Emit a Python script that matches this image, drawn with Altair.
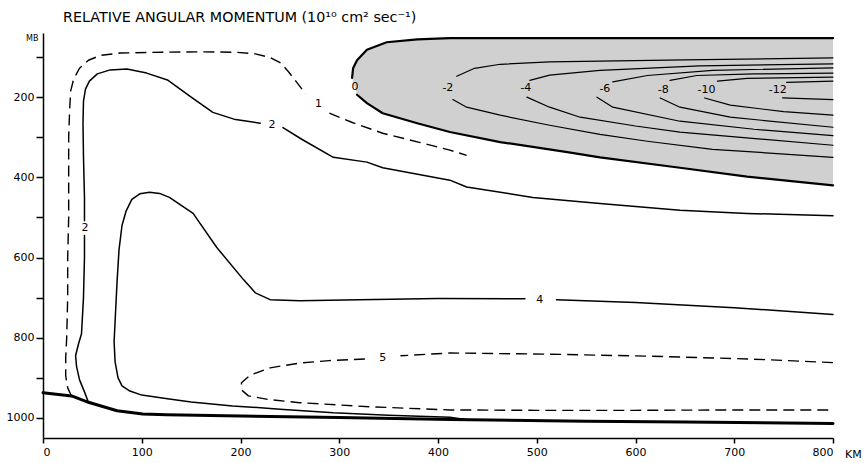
import altair as alt
import pandas as pd

FONT = "DejaVu Sans"

# ---------------- data: contour traces as (km, mb) ----------------
GROUND = [(0, 937), (29, 945), (46, 961), (75, 982), (101, 990), (125, 992), (200, 995),
          (300, 999), (413, 1004), (550, 1008), (650, 1010), (800, 1014)]

C1_A = [(29, 946), (25, 925), (23, 895), (23, 850), (24, 800), (25, 700), (25, 600), (26, 500),
        (26, 400), (26, 300), (27, 230), (28, 185), (31, 155), (37, 128), (46, 108), (58, 96),
        (78, 90), (120, 88), (160, 87), (195, 88), (215, 92), (230, 101), (241, 115),
        (249, 138), (257, 163), (266, 192)]
C1_B = [(290, 240), (312, 262), (344, 290), (380, 312), (412, 332), (429, 345)]

C2_A = [(46, 961), (42, 935), (37, 905), (34, 872), (33, 845), (36, 815), (39, 790),
        (41, 700), (42, 600), (42, 545)]
C2_B = [(42, 508), (42, 450), (41, 350), (40.5, 265), (41, 210), (43, 180), (47, 160),
        (55, 142), (68, 132), (85, 130), (105, 140), (126, 157), (149, 198), (172, 238),
        (195, 256), (220, 265)]
C2_C = [(243, 276), (262, 305), (294, 350), (328, 362), (344, 376), (412, 407), (429, 424),
        (496, 450), (564, 465), (645, 482), (713, 490), (800, 496)]

C4_A = [(428, 1004), (412, 998), (350, 993), (294, 987), (240, 978), (192, 970), (150, 960),
        (126, 952), (100, 943), (88, 933), (80, 920), (76, 900), (73, 860), (72, 810),
        (73, 760), (75, 660), (77, 580), (80, 520), (84, 485), (90, 455), (98, 441),
        (108, 437), (118, 440), (128, 450), (152, 490), (176, 575), (203, 655), (215, 688),
        (230, 705), (260, 708), (320, 705), (400, 702), (488, 703)]
C4_B = [(520, 705), (600, 712), (700, 725), (800, 742)]

C5_A = [(800, 862), (716, 853), (615, 846), (513, 841), (412, 838), (362, 845)]
C5_B = [(326, 853), (290, 857), (260, 863), (230, 875), (210, 893), (201, 912), (201, 930),
        (208, 945), (228, 954), (260, 962), (330, 972), (412, 980), (500, 981), (600, 981),
        (700, 980), (800, 980)]

C0_TOP = [(800, 53), (600, 53), (450, 53), (412, 53), (379, 56), (348, 63), (328, 82),
          (318, 108), (314, 128), (313, 152)]
C0_BOT = [(318, 194), (328, 215), (344, 240), (379, 265), (412, 287), (463, 312), (531, 337),
          (564, 350), (645, 376), (713, 398), (800, 420)]

N2_UP = [(419, 148), (437, 128), (463, 118), (513, 112), (564, 110), (650, 107), (800, 102)]
N2_LO = [(415, 206), (429, 225), (463, 245), (513, 270), (564, 293), (612, 310), (678, 330), (800, 350)]
N4_UP = [(493, 158), (513, 145), (564, 133), (665, 122), (800, 117)]
N4_LO = [(490, 200), (513, 225), (544, 250), (600, 272), (645, 287), (800, 320)]
N6_UP = [(577, 162), (612, 146), (678, 133), (800, 127)]
N6_LO = [(561, 200), (577, 225), (645, 260), (720, 280), (800, 296)]
N8_UP = [(635, 158), (662, 146), (720, 142), (800, 140)]
N8_LO = [(625, 202), (645, 225), (696, 250), (800, 275)]
N10_UP = [(683, 160), (713, 153), (800, 150)]
N10_LO = [(670, 202), (696, 220), (750, 236), (800, 245)]
N12_UP = [(753, 163), (800, 160)]
N12_LO = [(749, 202), (800, 206)]

LABEL_TEXT = ["0", "-2", "-4", "-6", "-8", "-10", "-12", "1", "2", "2", "4", "5"]
LABEL_KM = [316, 410, 489, 569, 628, 672, 744, 279, 232, 42.5, 503, 344]
LABEL_MB = [175, 178, 177, 180, 182, 182, 182, 217, 270, 527, 705, 850]

X_TICKS = [0, 100, 200, 300, 400, 500, 600, 700, 800]
Y_TICKS = [100, 200, 300, 400, 500, 600, 700, 800, 900, 1000]
TITLE = "RELATIVE ANGULAR MOMENTUM (10\u00b9\u2070 cm\u00b2 sec\u207b\u00b9)"

# ---------------- tables ----------------
def table(segments):
    rows = []
    for name, pts in segments:
        for i, (k, m) in enumerate(pts):
            rows.append({"seg": name, "km": k, "mb": m, "order": i})
    return pd.DataFrame(rows)

ground_df = table([("ground", GROUND)])
zero_df = table([("c0t", C0_TOP), ("c0b", C0_BOT)])
solid_df = table([("c2a", C2_A), ("c2b", C2_B), ("c2c", C2_C), ("c4a", C4_A), ("c4b", C4_B)])
dashed_df = table([("c1a", C1_A), ("c1b", C1_B), ("c5a", C5_A), ("c5b", C5_B)])
inner_df = table([("n2u", N2_UP), ("n2l", N2_LO), ("n4u", N4_UP), ("n4l", N4_LO),
                  ("n6u", N6_UP), ("n6l", N6_LO), ("n8u", N8_UP), ("n8l", N8_LO),
                  ("n10u", N10_UP), ("n10l", N10_LO), ("n12u", N12_UP), ("n12l", N12_LO)])

# shaded region (between contour 0 and the right edge): left boundary at each level
fill_pts = C0_TOP[3:] + C0_BOT
fill_df = pd.DataFrame({"km": [p[0] for p in fill_pts], "mb": [p[1] for p in fill_pts]})
fill_df["right"] = X_TICKS[-1]

labels_df = pd.DataFrame({"km": LABEL_KM, "mb": LABEL_MB, "t": LABEL_TEXT})
km_df = pd.DataFrame({"km": [X_TICKS[-1]], "mb": [1050], "t": ["KM"]})

# ---------------- encodings ----------------
x_scale = alt.Scale(domain=[0, 800], nice=False, zero=False)
y_scale = alt.Scale(domain=[40, 1050], reverse=True, nice=False, zero=False)
X_AXIS = alt.Axis(values=X_TICKS, title=None, format="d", tickSize=5, labelPadding=3)
Y_AXIS = alt.Axis(values=Y_TICKS, format="d",
                  labelExpr="datum.value % 200 == 0 ? datum.label : ''",
                  tickSize=7, labelPadding=2,
                  title="MB", titleAngle=0, titleX=-5, titleY=5,
                  titleAlign="right", titleBaseline="middle",
                  titleFontSize=8, titleFontWeight="normal", titleFont=FONT)
X = alt.X("km:Q", scale=x_scale, axis=X_AXIS)
Y = alt.Y("mb:Q", scale=y_scale, axis=Y_AXIS)

fill = alt.Chart(fill_df).mark_area(orient="horizontal", color="#d0d0d0", opacity=1,
                                    interpolate="linear").encode(
    x=alt.X("km:Q", scale=x_scale, stack=None, axis=X_AXIS),
    x2="right:Q",
    y=alt.Y("mb:Q", scale=y_scale, axis=Y_AXIS, sort=None),
)

def lines(df, width, dash=None):
    kw = dict(color="black", strokeWidth=width, strokeJoin="round", strokeCap="round")
    if dash:
        kw["strokeDash"] = dash
        kw["strokeCap"] = "butt"
    return alt.Chart(df).mark_line(**kw).encode(x=X, y=Y, detail="seg:N", order="order:Q")

text = alt.Chart(labels_df).mark_text(font=FONT, fontSize=11, color="black",
                                      baseline="middle", align="center").encode(x=X, y=Y, text="t:N")
km_text = alt.Chart(km_df).mark_text(font=FONT, fontSize=11, color="black", align="left",
                                     baseline="alphabetic", dx=12, dy=20).encode(x=X, y=Y, text="t:N")

chart = alt.layer(
    fill,
    lines(inner_df, 1.2),
    lines(zero_df, 2.2),
    lines(solid_df, 1.5),
    lines(dashed_df, 1.4, [11, 6]),
    lines(ground_df, 3),
    text,
    km_text,
).properties(
    width=790, height=405,
    title=alt.TitleParams(TITLE, anchor="start", frame="group", font=FONT, fontSize=14.3,
                          fontWeight="normal", color="black", dx=20, dy=15, offset=12,
                          baseline="alphabetic"),
    autosize=alt.AutoSizeParams(type="none"),
    padding={"left": 43, "top": 33, "right": 30, "bottom": 25},
).configure_view(stroke=None).configure_axis(
    grid=False, domainColor="black", domainWidth=1.5, tickColor="black", tickWidth=1.5,
    labelColor="black", labelFont=FONT, labelFontSize=11,
)

chart.save("out.html", embed_options={"renderer": "svg", "actions": False})
